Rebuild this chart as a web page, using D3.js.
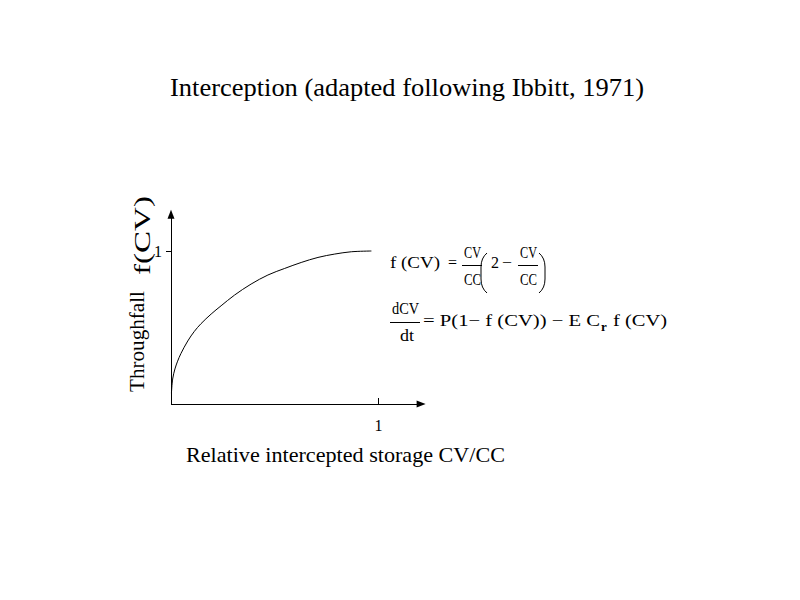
<!DOCTYPE html>
<html>
<head>
<meta charset="utf-8">
<script src="https://cdn.jsdelivr.net/npm/d3@7"></script>
<style>
  body { margin: 0; background: #fff; }
  svg text { font-family: "Liberation Serif", "Times New Roman", serif; fill: #000; }
</style>
</head>
<body>
<div id="chart"></div>
<script>
// values: relative storage CV/CC vs throughfall fraction f(CV)
var cvRatio = [0.002, 0.008, 0.019, 0.032, 0.048, 0.081, 0.113, 0.145, 0.194, 0.242, 0.307, 0.387, 0.468, 0.549, 0.629, 0.710, 0.791, 0.871, 0.968];
var throughfall = [0.07, 0.163, 0.229, 0.28, 0.33, 0.412, 0.475, 0.525, 0.588, 0.642, 0.712, 0.784, 0.843, 0.886, 0.925, 0.958, 0.980, 0.995, 1.0];
var xTicks = [1];
var yTicks = [1];
var titleText = "Interception (adapted following Ibbitt, 1971)";
var xLabel = "Relative intercepted storage CV/CC";
var yLabel = "Throughfall";
var yLabelBig = "f(CV)";

var W = 800, H = 600;
var svg = d3.select("#chart").append("svg")
    .attr("width", W)
    .attr("height", H);

// scales: 0..1 on both axes
var x = d3.scaleLinear().domain([0, 1]).range([171, 378]);
var y = d3.scaleLinear().domain([0, 1]).range([404, 251]);

// title
svg.append("text")
    .attr("x", 170).attr("y", 96)
    .attr("font-size", 25)
    .attr("textLength", 474)
    .attr("lengthAdjust", "spacingAndGlyphs")
    .text(titleText);

// axis lines with arrow heads
var axisG = svg.append("g").attr("stroke", "#000").attr("fill", "none");
axisG.append("line")
    .attr("x1", x(0)).attr("y1", y(0))
    .attr("x2", x(1.2)).attr("y2", y(0))
    .attr("shape-rendering", "crispEdges");
axisG.append("line")
    .attr("x1", x(0)).attr("y1", y(0))
    .attr("x2", x(0)).attr("y2", y(1.22))
    .attr("shape-rendering", "crispEdges");
svg.append("path")
    .attr("d", "M" + (x(1.23)) + "," + y(0) + "l-9,-3.5l0,7z")
    .attr("fill", "#000");
svg.append("path")
    .attr("d", "M" + x(0) + "," + (y(1.27)) + "l-3.5,9l7,0z")
    .attr("fill", "#000");

// ticks
var xAxis = svg.append("g")
    .attr("transform", "translate(0," + y(0) + ")")
    .call(d3.axisBottom(x).tickValues(xTicks).tickSize(-6).tickPadding(16).tickFormat(d3.format("d")));
var yAxis = svg.append("g")
    .attr("transform", "translate(" + x(0) + ",0)")
    .call(d3.axisLeft(y).tickValues(yTicks).tickSize(5).tickPadding(4).tickFormat(d3.format("d")));
[xAxis, yAxis].forEach(function (g) {
    g.select(".domain").remove();
    g.selectAll("line").attr("stroke", "#000").attr("shape-rendering", "crispEdges");
    g.selectAll("text")
        .attr("font-family", "Liberation Serif, serif")
        .attr("font-size", 16)
        .attr("fill", "#000");
});

// curve
var pts = cvRatio.map(function (d, i) { return [d, throughfall[i]]; });
var line = d3.line()
    .x(function (d) { return x(d[0]); })
    .y(function (d) { return y(d[1]); })
    .curve(d3.curveCatmullRom.alpha(0.5));
svg.append("path")
    .datum(pts)
    .attr("d", line)
    .attr("fill", "none")
    .attr("stroke", "#000")
    .attr("stroke-width", 1);

// axis labels
svg.append("text")
    .attr("x", 186).attr("y", 462)
    .attr("font-size", 21)
    .attr("textLength", 319)
    .attr("lengthAdjust", "spacingAndGlyphs")
    .text(xLabel);

svg.append("text")
    .attr("transform", "translate(144,392) rotate(-90)")
    .attr("font-size", 21)
    .attr("textLength", 101)
    .attr("lengthAdjust", "spacingAndGlyphs")
    .text(yLabel);
svg.append("text")
    .attr("transform", "translate(150,275) rotate(-90)")
    .attr("font-size", 24)
    .attr("textLength", 79)
    .attr("lengthAdjust", "spacingAndGlyphs")
    .text(yLabelBig);

// equations
var eq = svg.append("g").attr("font-size", 16);
function txt(x0, y0, s, len, size) {
    var t = eq.append("text").attr("x", x0).attr("y", y0).text(s);
    if (len) t.attr("textLength", len).attr("lengthAdjust", "spacingAndGlyphs");
    if (size) t.attr("font-size", size);
    return t;
}
function bar(x1, x2, yy) {
    eq.append("line").attr("x1", x1).attr("x2", x2).attr("y1", yy).attr("y2", yy)
        .attr("stroke", "#000").attr("shape-rendering", "crispEdges");
}
// f(CV) = CV/CC (2 - CV/CC)
txt(390, 268, "f (CV)", 50);
txt(448, 268, "=", 9);
txt(464, 258, "CV", 17);
bar(462, 482, 265.5);
txt(464, 285, "CC", 17);
eq.append("path")
    .attr("d", "M487,253 Q481,258 481,267 L481,279 Q481,288 487,293")
    .attr("fill", "none").attr("stroke", "#000");
txt(491, 268, "2");
txt(502, 268, "\u2212", 10);
txt(520, 258, "CV", 17);
bar(518, 538, 265.5);
txt(520, 285, "CC", 17);
eq.append("path")
    .attr("d", "M539,253 Q545,258 545,267 L545,279 Q545,288 539,293")
    .attr("fill", "none").attr("stroke", "#000");

// dCV/dt = P(1 - f(CV)) - E Cr f(CV)
txt(392, 314, "dCV", 27);
bar(390, 420, 322.5);
txt(400, 341, "dt", 14);
txt(423, 326, "= P(1\u2212 f (CV)) \u2212 E C", 177);
txt(601, 331, "r", null, 13).attr("font-weight", "bold");
txt(613, 326, "f (CV)", 54);
</script>
</body>
</html>
